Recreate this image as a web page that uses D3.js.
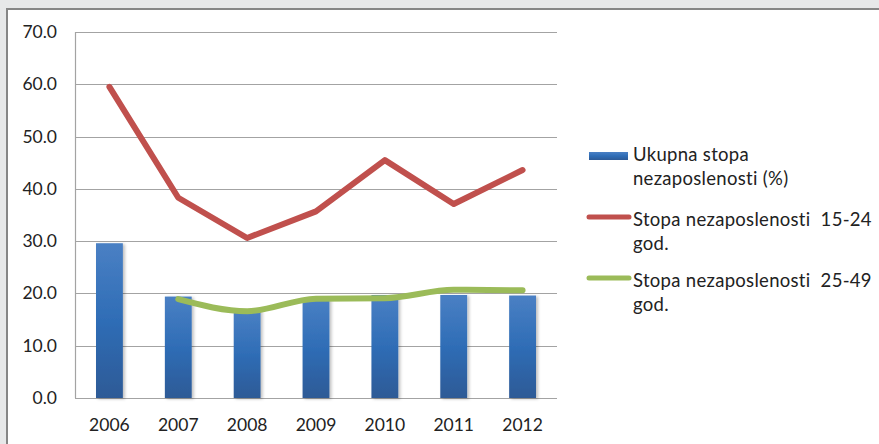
<!DOCTYPE html>
<html><head><meta charset="utf-8">
<script src="https://cdn.jsdelivr.net/npm/d3@7"></script>
<style>html,body{margin:0;padding:0;background:#e7e8e9;}svg{display:block;}</style>
</head><body>
<script>
const years = ["2006","2007","2008","2009","2010","2011","2012"];
const totalRate = [29.6, 19.4, 16.8, 19.1, 19.7, 19.7, 19.6];
const youthRate = [59.5, 38.3, 30.6, 35.7, 45.5, 37.1, 43.6];
const adultRate = [null, 18.9, 16.6, 19.0, 19.1, 20.7, 20.6];
const yTicks = [0,10,20,30,40,50,60,70];
const legendLabels = [["Ukupna stopa","nezaposlenosti (%)"],["Stopa nezaposlenosti  15-24","god."],["Stopa nezaposlenosti  25-49","god."]];

const W = 879, H = 444;
const svg = d3.select("body").append("svg").attr("width", W).attr("height", H);
svg.append("rect").attr("width", W).attr("height", H).attr("fill", "#e7e8e9");
svg.append("rect").attr("x", 7).attr("y", 9).attr("width", W + 20).attr("height", H + 20)
  .attr("fill", "#ffffff").attr("stroke", "#868686").attr("stroke-width", 2);

const defs = svg.append("defs");
const g1 = defs.append("linearGradient").attr("id", "barGrad").attr("x1", 0).attr("y1", 0).attr("x2", 0).attr("y2", 1);
g1.append("stop").attr("offset", "0%").attr("stop-color", "#4a80c4");
g1.append("stop").attr("offset", "50%").attr("stop-color", "#2f6db6");
g1.append("stop").attr("offset", "100%").attr("stop-color", "#2e5a96");
const f = defs.append("filter").attr("id", "shadow").attr("x", "-30%").attr("y", "-10%").attr("width", "160%").attr("height", "120%");
f.append("feDropShadow").attr("dx", 2).attr("dy", 1).attr("stdDeviation", 1.5).attr("flood-color", "#000").attr("flood-opacity", 0.25);

const x = d3.scaleBand().domain(years).range([75, 557]).paddingInner(0.61).paddingOuter(0.305);
const xc = d => x(d) + x.bandwidth() / 2;
const y = d3.scaleLinear().domain([0, 70]).range([398, 32]);

const font = "Lato, 'Liberation Sans', sans-serif";

// gridlines
svg.append("g").selectAll("line").data(yTicks).join("line")
  .attr("x1", 75).attr("x2", 557).attr("y1", d => Math.round(y(d)) + 0.5).attr("y2", d => Math.round(y(d)) + 0.5)
  .attr("stroke", "#a3a3a3").attr("stroke-width", 1.2);
svg.append("line").attr("x1", 75.5).attr("x2", 75.5).attr("y1", y(70)).attr("y2", y(0))
  .attr("stroke", "#a3a3a3").attr("stroke-width", 1.2);

// y labels
svg.append("g").selectAll("text").data(yTicks).join("text")
  .attr("x", 57).attr("y", d => y(d) + 6).attr("text-anchor", "end")
  .attr("font-family", font).attr("font-size", 17.5).attr("fill", "#222")
  .text(d => d3.format(".1f")(d));

// x labels
svg.append("g").selectAll("text").data(years).join("text")
  .attr("x", d => xc(d)).attr("y", 431).attr("text-anchor", "middle")
  .attr("font-family", font).attr("font-size", 17.5).attr("fill", "#222")
  .text(d => d);

// bars
svg.append("g").selectAll("rect").data(years).join("rect")
  .attr("x", d => x(d)).attr("width", x.bandwidth())
  .attr("y", (d, i) => y(totalRate[i])).attr("height", (d, i) => y(0) - y(totalRate[i]))
  .attr("fill", "url(#barGrad)").attr("filter", "url(#shadow)");

// lines
const lineRed = d3.line().x((d, i) => xc(years[i])).y(d => y(d));
svg.append("path").datum(youthRate).attr("d", lineRed)
  .attr("fill", "none").attr("stroke", "#c0504d").attr("stroke-width", 6)
  .attr("stroke-linejoin", "round").attr("stroke-linecap", "round");

const greenPts = adultRate.map((v, i) => [xc(years[i]), v]).filter(p => p[1] != null);
const lineGreen = d3.line().x(d => d[0]).y(d => y(d[1])).curve(d3.curveMonotoneX);
svg.append("path").datum(greenPts).attr("d", lineGreen)
  .attr("fill", "none").attr("stroke", "#9bbb59").attr("stroke-width", 6)
  .attr("stroke-linejoin", "round").attr("stroke-linecap", "round");

// legend
const lg = svg.append("g");
const itemY = [156, 217, 278];
lg.append("rect").attr("x", 589).attr("y", itemY[0] - 4).attr("width", 39).attr("height", 8).attr("fill", "url(#barGrad)");
lg.append("line").attr("x1", 589).attr("x2", 629).attr("y1", itemY[1]).attr("y2", itemY[1])
  .attr("stroke", "#c0504d").attr("stroke-width", 5).attr("stroke-linecap", "round");
lg.append("line").attr("x1", 589).attr("x2", 629).attr("y1", itemY[2]).attr("y2", itemY[2])
  .attr("stroke", "#9bbb59").attr("stroke-width", 5).attr("stroke-linecap", "round");
legendLabels.forEach((lines, i) => {
  const t = lg.append("text").attr("x", 633).attr("y", itemY[i] + 5 + (i === 0 ? 0 : 4))
    .attr("font-family", font).attr("font-size", 18.5).attr("letter-spacing", 0.3).attr("fill", "#222")
    .attr("xml:space", "preserve").style("white-space", "pre");
  lines.forEach((ln, j) => t.append("tspan").attr("x", 633).attr("dy", j === 0 ? 0 : 23.5).text(ln));
});
</script>
</body></html>
